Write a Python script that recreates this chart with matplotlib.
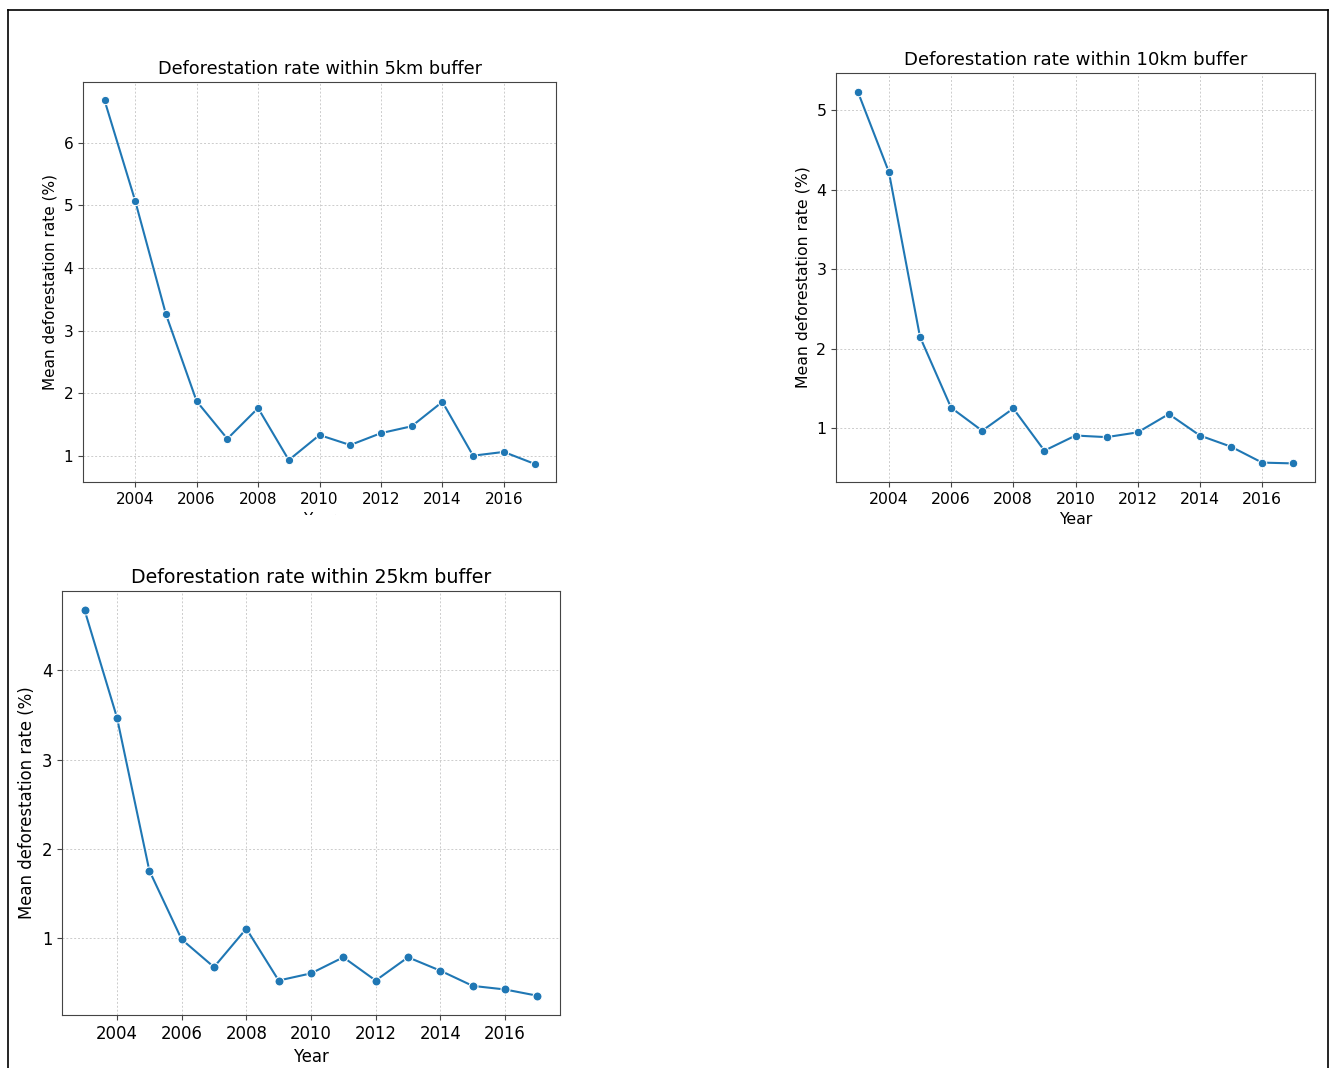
import matplotlib.pyplot as plt
from matplotlib.lines import Line2D
from matplotlib.patches import Rectangle

years = list(range(2003, 2018))

rate_5km = [6.68, 5.07, 3.26, 1.87, 1.27, 1.76, 0.93, 1.33, 1.17, 1.36, 1.47, 1.86, 1.00, 1.06, 0.87]
rate_10km = [5.23, 4.22, 2.15, 1.26, 0.97, 1.25, 0.72, 0.91, 0.89, 0.95, 1.18, 0.91, 0.77, 0.57, 0.56]
rate_25km = [4.67, 3.47, 1.76, 0.99, 0.68, 1.11, 0.53, 0.61, 0.79, 0.53, 0.79, 0.64, 0.47, 0.43, 0.36]

buffers = ["5km", "10km", "25km"]

W, H = 1333, 1068
LINE_COLOR = "#1f77b4"


def px_box(x0, y0, x1, y1):
    # pixel box (top-left origin) -> figure fraction rect
    return [x0 / W, 1 - y1 / H, (x1 - x0) / W, (y1 - y0) / H]


def draw_panel(ax, values, buffer, scale=1.0):
    ax.plot(years, values, color=LINE_COLOR, linewidth=1.5, marker="o",
            markersize=6 * scale, markeredgecolor="white", markeredgewidth=0.75)
    ax.set_title(f"Deforestation rate within {buffer} buffer", fontsize=12.7 * scale)
    ax.set_ylabel("Mean deforestation rate (%)", fontsize=11 * scale)
    ax.set_xlabel("Year", fontsize=11 * scale)
    ax.set_xticks(range(2004, 2018, 2))
    ax.tick_params(labelsize=11 * scale, color="#444444")
    ax.grid(True, linestyle=(0, (2, 2)), color="#cccccc", linewidth=0.7)
    ax.set_axisbelow(True)
    for sp in ax.spines.values():
        sp.set_color("#444444")


fig = plt.figure(figsize=(W / 100, H / 100), dpi=100)

ax1 = fig.add_axes(px_box(83, 82, 556, 482))
draw_panel(ax1, rate_5km, buffers[0], scale=1.0)

ax2 = fig.add_axes(px_box(836, 73, 1315, 482))
draw_panel(ax2, rate_10km, buffers[1], scale=1.03)

ax3 = fig.add_axes(px_box(62, 591, 560, 1015))
draw_panel(ax3, rate_25km, buffers[2], scale=1.08)

# the first screenshot was cut just below its tick labels
fig.add_artist(Rectangle((200 / W, 1 - 560 / H), 300 / W, 45 / H,
                         transform=fig.transFigure, facecolor="white",
                         edgecolor="none", zorder=5))

# outer frame of the composite
frame_kw = dict(color="black", linewidth=1.2, transform=fig.transFigure, zorder=6)
fig.add_artist(Line2D([8 / W, 8 / W], [0, 1 - 10 / H], **frame_kw))
fig.add_artist(Line2D([8 / W, 1328 / W], [1 - 10 / H, 1 - 10 / H], **frame_kw))
fig.add_artist(Line2D([1328 / W, 1328 / W], [0, 1 - 10 / H], **frame_kw))

fig.savefig("out.png", dpi=100)
plt.close(fig)
